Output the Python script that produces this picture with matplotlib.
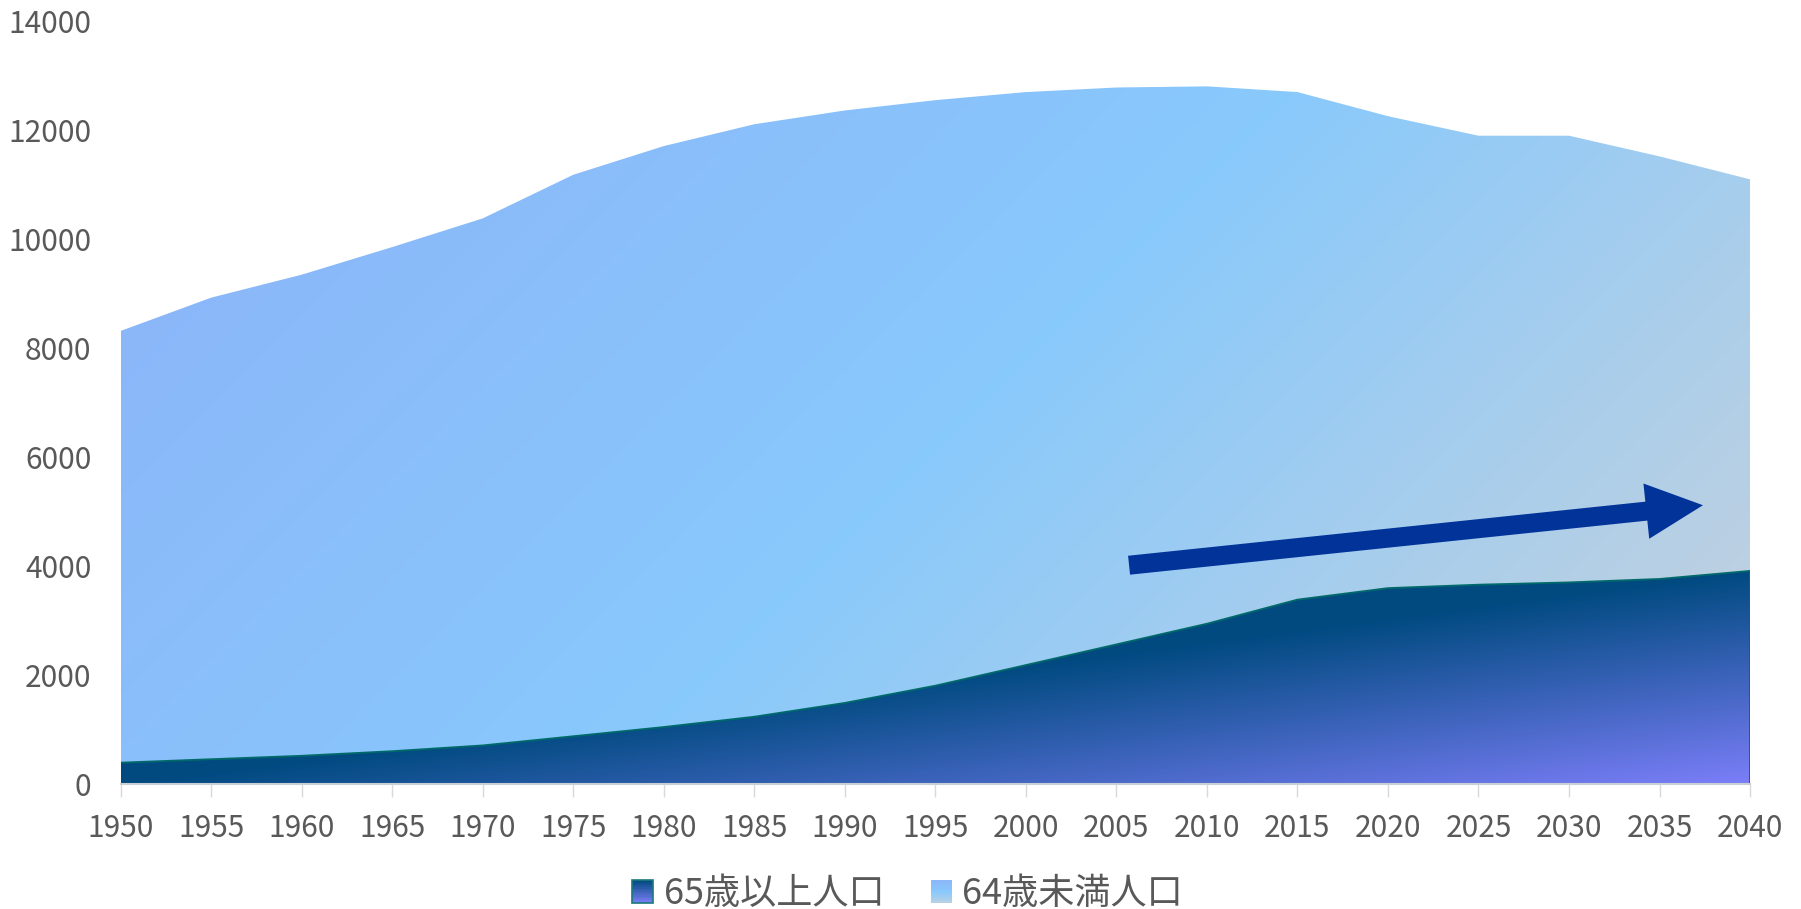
import matplotlib
matplotlib.use("Agg")
import matplotlib.pyplot as plt
from matplotlib.colors import LinearSegmentedColormap
from matplotlib.legend_handler import HandlerBase
from matplotlib.patches import Patch, Rectangle
from matplotlib.path import Path
import numpy as np

plt.rcParams["font.family"] = ["Noto Sans CJK JP", "DejaVu Sans"]

# data (10k persons)
years = [1950, 1955, 1960, 1965, 1970, 1975, 1980, 1985, 1990, 1995,
         2000, 2005, 2010, 2015, 2020, 2025, 2030, 2035, 2040]
over65 = [400, 463, 526, 610, 716, 884, 1053, 1242, 1495, 1811,
          2189, 2568, 2947, 3389, 3600, 3663, 3705, 3768, 3916]
total = [8316, 8926, 9347, 9853, 10379, 11179, 11705, 12105, 12358, 12547,
         12695, 12779, 12800, 12695, 12253, 11895, 11895, 11516, 11095]
under65 = [t - o for t, o in zip(total, over65)]
labels = ["65歳以上人口", "64歳未満人口"]
yticks = [0, 2000, 4000, 6000, 8000, 10000, 12000, 14000]

# trend arrow (year, value)
arrow_tail = (2005.7, 4020)
arrow_tip = (2037.4, 5120)

TEXT = "#595959"
light_cmap = LinearSegmentedColormap.from_list(
    "light", [(0, "#8cb2f8"), (0.5, "#88c9fc"), (1, "#c8d2dc")])
dark_cmap = LinearSegmentedColormap.from_list(
    "dark", [(0, "#004a80"), (0.5, "#004a80"), (1, "#7b7ef8")])


class GradientHandler(HandlerBase):
    def __init__(self, cmap, t0, t1, edge=None):
        super().__init__()
        self.cmap, self.t0, self.t1, self.edge = cmap, t0, t1, edge

    def create_artists(self, legend, orig_handle, xdescent, ydescent,
                       width, height, fontsize, trans):
        x0, y0 = -xdescent, -ydescent
        n = 14
        out = []
        for i in range(n):
            t = self.t0 + (self.t1 - self.t0) * (i + 0.5) / n
            r = Rectangle((x0, y0 + height * (n - i - 1) / n), width, height / n,
                          facecolor=self.cmap(t), edgecolor="none",
                          transform=trans)
            out.append(r)
        if self.edge:
            out.append(Rectangle((x0, y0), width, height, facecolor="none",
                                 edgecolor=self.edge, lw=1.2, transform=trans))
        return out


fig = plt.figure(figsize=(18.01, 9.09), dpi=100)
ax = fig.add_axes([0.067, 0.137, 0.9047, 0.840])
ax.set_xlim(1950, 2040)
ax.set_ylim(0, 14000)

x = np.array(years, dtype=float)
lo = np.array(over65, dtype=float)
hi = lo + np.array(under65, dtype=float)

# gradient fields
gx, gy = np.meshgrid(np.linspace(1950, 2040, 900), np.linspace(0, 14000, 700))
disp = ax.transData.transform(np.column_stack([gx.ravel(), gy.ravel()]))
H = fig.bbox.height
sx = disp[:, 0].reshape(gx.shape)
sy = (H - disp[:, 1]).reshape(gx.shape)
s = sx + sy
c0 = ax.transData.transform((1950, hi.max()))
c1 = ax.transData.transform((2040, 0))
s0 = c0[0] + H - c0[1]
s1 = c1[0] + H - c1[1]
t_light = np.clip((s - s0) / (s1 - s0), 0, 1)

nx = (gx - 1950) / 90.0
ny = (lo.max() - gy) / lo.max()
t_dark = np.clip((nx + ny) / 2, 0, 1)


def area_path(xs, ylo, yhi):
    verts = np.concatenate([np.column_stack([xs, yhi]),
                            np.column_stack([xs[::-1], ylo[::-1]]),
                            [[xs[0], yhi[0]]]])
    return Path(verts)


for tt, cmap, ylo, yhi in [(t_light, light_cmap, lo, hi),
                            (t_dark, dark_cmap, np.zeros_like(lo), lo)]:
    im = ax.imshow(cmap(tt), extent=(1950, 2040, 0, 14000), origin="lower",
                   aspect="auto", interpolation="bilinear", zorder=1)
    im.set_clip_path(area_path(x, ylo, yhi), ax.transData)

ax.plot(x, lo, color="#006a6a", lw=1.3, zorder=2)
ax.plot([2040, 2040], [0, lo[-1]], color="#006a6a", lw=1.3, zorder=2)

ax.annotate("", xy=arrow_tip, xytext=arrow_tail,
            arrowprops=dict(arrowstyle="simple,head_length=4.1,head_width=4.0,tail_width=1.37",
                            mutation_scale=10, color="#023399", lw=0,
                            shrinkA=0, shrinkB=0), zorder=3)

for sp in ["top", "right", "left"]:
    ax.spines[sp].set_visible(False)
ax.spines["bottom"].set_color("#c8d0d6")
ax.spines["bottom"].set_linewidth(1.5)
ax.spines["bottom"].set_zorder(4)

ax.set_xticks(years)
ax.set_yticks(yticks)
ax.tick_params(axis="x", length=9.5, width=1, color="#d9d9d9", pad=11,
               labelsize=21.5, labelcolor=TEXT)
ax.tick_params(axis="y", length=0, pad=21, labelsize=21.5, labelcolor=TEXT)

h1, h2 = Patch(), Patch()
fig.legend([h1, h2], labels, loc="center", bbox_to_anchor=(0.504, 0.016),
           ncol=2, frameon=False, fontsize=26, labelcolor=TEXT,
           handlelength=0.58, handleheight=0.58, handletextpad=0.28,
           columnspacing=1.3,
           handler_map={h1: GradientHandler(dark_cmap, 0.5, 1.0, "#1a7a7a"),
                        h2: GradientHandler(light_cmap, 0.1, 0.9)})

fig.savefig("out.png", dpi=100)
